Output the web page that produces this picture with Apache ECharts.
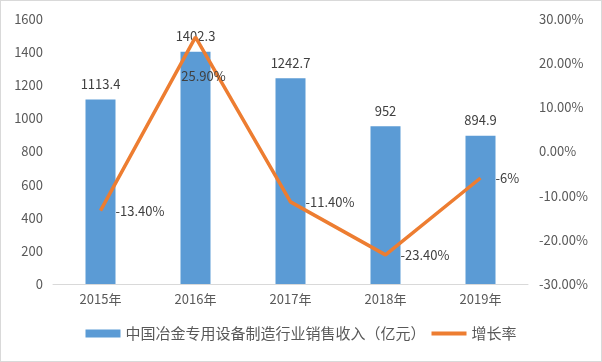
<!DOCTYPE html>
<html><head><meta charset="utf-8">
<script src="https://cdn.jsdelivr.net/npm/echarts@6/dist/echarts.min.js"></script>
<style>html,body{margin:0;padding:0;background:#fff}#c{width:600px;height:360px;border:1px solid #d9d9d9}</style>
</head><body><div id="c"></div>
<script>
const categories = ['2015年','2016年','2017年','2018年','2019年'];
const revenue = [1113.4, 1402.3, 1242.7, 952, 894.9];
const growth = [-13.4, 25.9, -11.4, -23.4, -6];
const growthLabels = ['-13.40%','25.90%','-11.40%','-23.40%','-6%'];
const font = '"Noto Sans CJK SC", "Microsoft YaHei", sans-serif';
const txt = '#404040';
const chart = echarts.init(document.getElementById('c'));
chart.setOption({
  animation:false,
  textStyle:{fontFamily:font},
  grid:{left:52,right:73,top:18,bottom:77},
  legend:{bottom:15,left:'center',itemWidth:35,itemHeight:8,itemGap:6,
    textStyle:{fontFamily:font,fontSize:15,color:'#595959'},
    data:[{name:'中国冶金专用设备制造行业销售收入（亿元）',icon:'rect'},
          {name:'增长率',icon:'path://M0,0 H35 V4 H0 Z',itemStyle:{color:'#ED7D31'}}]},
  xAxis:{type:'category',data:categories,axisTick:{show:false},
    axisLine:{lineStyle:{color:'#d9d9d9'}},
    axisLabel:{color:'#595959',fontSize:13,margin:9,fontFamily:font}},
  yAxis:[
    {type:'value',min:0,max:1600,interval:200,splitLine:{show:false},
     axisLabel:{color:'#595959',fontSize:13,margin:10,fontFamily:font,formatter:v=>String(v)}},
    {type:'value',min:-30,max:30,interval:10,splitLine:{show:false},
     axisLabel:{color:'#595959',fontSize:13,margin:11,fontFamily:font,formatter:v=>v.toFixed(2)+'%'}}
  ],
  series:[
    {name:'中国冶金专用设备制造行业销售收入（亿元）',type:'bar',data:revenue,barWidth:30,
     itemStyle:{color:'#5B9BD5'},
     label:{show:true,position:'top',distance:9,color:txt,fontSize:13,fontFamily:font}},
    {name:'增长率',type:'line',yAxisIndex:1,symbol:'circle',symbolSize:0.1,showSymbol:true,
     data:growth.map((v,i)=>({value:v,label:i===1?{position:'bottom',distance:32,offset:[8,0]}:{}})),
     lineStyle:{color:'#ED7D31',width:3.5},itemStyle:{color:'#ED7D31'},
     label:{show:true,position:'right',distance:15,color:txt,fontSize:13,fontFamily:font,
       formatter:p=>growthLabels[p.dataIndex]}}
  ]
});
</script></body></html>
